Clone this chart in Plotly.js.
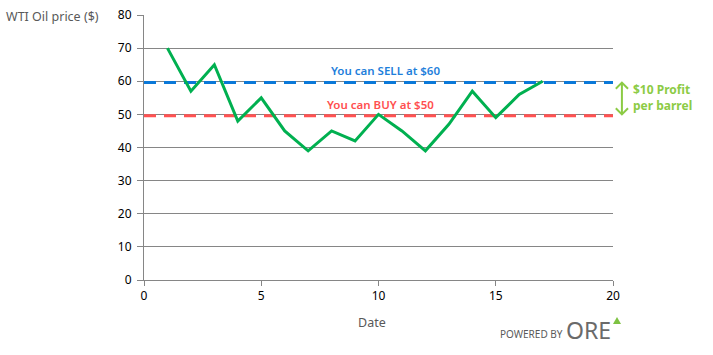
<!DOCTYPE html>
<html>
<head>
<meta charset="utf-8">
<script src="https://cdn.plot.ly/plotly-3.0.1.min.js"></script>
<style>html,body{margin:0;padding:0;background:#fff;}#chart{width:713px;height:355px;}</style>
</head>
<body>
<div id="chart"></div>
<script>
const dates = [1,2,3,4,5,6,7,8,9,10,11,12,13,14,15,16,17];
const prices = [70,57,65,48,55,45,39,45,42,50,45,39,47,57,49,56,60];
const sellLevel = 59.6;
const buyLevel = 49.6;
const xSpan = [0,20];
const sellLabel = "You can SELL at $60";
const buyLabel = "You can BUY at $50";
const profitLabel = "$10 Profit<br>per barrel";

const F = "Noto Sans, Open Sans, sans-serif";

const traces = [
  {x: xSpan, y: [sellLevel, sellLevel], mode: 'lines', line: {color: '#0A78D8', width: 3, dash: '12px,8px'}, hoverinfo: 'skip'},
  {x: xSpan, y: [buyLevel, buyLevel], mode: 'lines', line: {color: '#FF5252', width: 3, dash: '12px,8px'}, hoverinfo: 'skip'},
  {x: dates, y: prices, mode: 'lines', line: {color: '#00B050', width: 3}}
];

const layout = {
  width: 713, height: 355,
  margin: {l: 144, r: 100, t: 15, b: 75},
  showlegend: false,
  paper_bgcolor: '#fff', plot_bgcolor: '#fff',
  font: {family: F, size: 12, color: '#000'},
  xaxis: {
    range: [0, 20], dtick: 5, tick0: 0, showgrid: false, zeroline: false,
    showline: true, linecolor: '#868686', linewidth: 1,
    ticks: 'outside', ticklen: 5, tickcolor: '#868686',
    tickfont: {family: F, size: 12, color: '#000'}
  },
  yaxis: {
    range: [0, 80], dtick: 10, tick0: 0, showgrid: true, gridcolor: '#868686', gridwidth: 1,
    zeroline: false, showline: true, linecolor: '#868686', linewidth: 1,
    ticks: 'outside', ticklen: 6, tickcolor: '#868686', ticklabelstandoff: 3,
    tickfont: {family: F, size: 12, color: '#000'}
  },
  annotations: [
    {xref: 'paper', yref: 'paper', x: -0.196, y: 0.995, text: 'WTI Oil price ($)', showarrow: false,
     xanchor: 'center', yanchor: 'middle', font: {family: F, size: 12.5, color: '#595959'}},
    {xref: 'paper', yref: 'paper', x: 0.486, y: -0.162, text: 'Date', showarrow: false,
     xanchor: 'center', yanchor: 'middle', font: {family: F, size: 12.5, color: '#595959'}},
    {xref: 'x', yref: 'paper', x: 10.3, y: (280-71)/265, text: sellLabel, showarrow: false,
     xanchor: 'center', yanchor: 'middle', font: {family: F, size: 11.5, color: '#1F7FDB', weight: 600}},
    {xref: 'x', yref: 'paper', x: 10.1, y: (280-104)/265, text: buyLabel, showarrow: false,
     xanchor: 'center', yanchor: 'middle', font: {family: F, size: 11.5, color: '#FF4F4F', weight: 600}},
    {xref: 'paper', yref: 'paper', x: (631-144)/469, y: (280-97)/265, text: profitLabel, showarrow: false,
     xanchor: 'left', yanchor: 'middle', align: 'left', font: {family: F, size: 12, color: '#8CCB45', weight: 'bold'}},
    {xref: 'paper', yref: 'paper', x: (565-144)/469, y: (280-334)/265, text: 'POWERED BY', showarrow: false,
     xanchor: 'right', yanchor: 'middle', font: {family: F, size: 10, color: '#5a5a5a'}},
    {xref: 'paper', yref: 'paper', x: (564-144)/469, y: (280-330)/265, text: 'ORE', showarrow: false,
     xanchor: 'left', yanchor: 'middle', font: {family: F, size: 23, color: '#6a6a6a'}}
  ],
  shapes: [
    {type: 'path', xref: 'paper', yref: 'paper',
     path: 'M 1.019,0.745 L 1.019,0.625 M 1.006,0.722 L 1.019,0.745 L 1.032,0.722 M 1.006,0.648 L 1.019,0.625 L 1.032,0.648',
     line: {color: '#8CCB45', width: 2}},
    {type: 'path', xref: 'paper', yref: 'paper',
     path: 'M ' + ((613-144)/469) + ',' + ((280-324)/265) + ' L ' + ((621-144)/469) + ',' + ((280-324)/265) + ' L ' + ((617-144)/469) + ',' + ((280-317)/265) + ' Z',
     fillcolor: '#7DC242', line: {width: 0}}
  ]
};

Plotly.newPlot('chart', traces, layout, {displayModeBar: false, staticPlot: true});
</script>
</body>
</html>
